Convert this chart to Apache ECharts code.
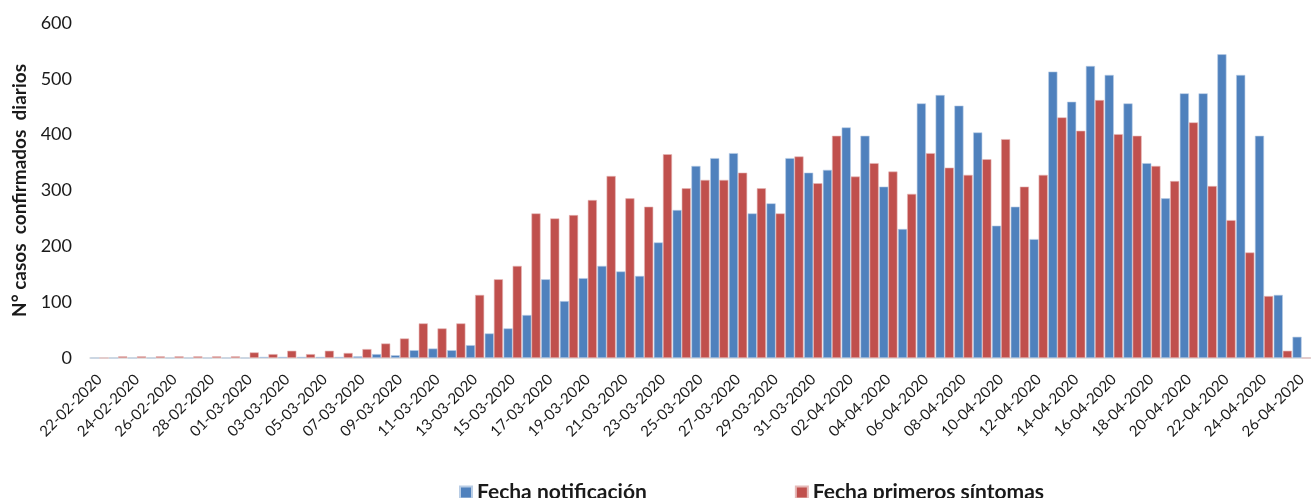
<!DOCTYPE html>
<html>
<head>
<meta charset="utf-8">
<script src="https://cdn.jsdelivr.net/npm/echarts@6/dist/echarts.min.js"></script>
<style>
  html, body { margin: 0; padding: 0; background: #fff; }
  #chart { width: 1311px; height: 498px; }
</style>
</head>
<body>
<div id="chart"></div>
<script>
// fechas 22-02-2020 .. 26-04-2020
var dates = [];
(function () {
  var d = new Date(2020, 1, 22);
  for (var i = 0; i < 65; i++) {
    var dd = ('0' + d.getDate()).slice(-2);
    var mm = ('0' + (d.getMonth() + 1)).slice(-2);
    dates.push(dd + '-' + mm + '-2020');
    d.setDate(d.getDate() + 1);
  }
})();

// casos por fecha de notificación
var notificacion = [
  0, 0, 0, 0, 0, 0, 0, 0, 0, 2,
  2, 2, 2, 2, 3, 7, 5, 14, 17, 14,
  23, 44, 53, 77, 141, 102, 143, 165, 155, 147,
  207, 265, 344, 358, 367, 259, 277, 358, 332, 337,
  413, 398, 307, 231, 456, 471, 452, 404, 237, 271,
  213, 513, 459, 523, 507, 456, 349, 286, 474, 474,
  544, 507, 398, 113, 38
];

// casos por fecha de primeros síntomas
var sintomas = [
  0, 3, 3, 3, 3, 3, 3, 3, 10, 7,
  13, 7, 13, 9, 16, 26, 35, 62, 53, 62,
  113, 141, 165, 259, 250, 256, 283, 326, 286, 271,
  365, 304, 319, 319, 332, 304, 259, 361, 313, 398,
  325, 349, 334, 294, 367, 341, 328, 356, 392, 307,
  328, 431, 407, 462, 401, 398, 344, 317, 422, 308,
  247, 189, 111, 13, 0
];

var myChart = echarts.init(document.getElementById('chart'));
var option = {
  animation: false,
  grid: {
    left: 90,
    right: -5,
    top: 23,
    bottom: 140
  },
  legend: {
    data: ['Fecha notificación', 'Fecha primeros síntomas'],
    left: 454,
    top: 477,
    icon: 'rect',
    itemWidth: 12,
    itemHeight: 12,
    itemGap: 148,
    textStyle: {
      fontFamily: 'Lato',
      fontWeight: 'bold',
      fontSize: 21,
      color: '#1a1a1a'
    }
  },
  xAxis: {
    type: 'category',
    data: dates,
    axisLine: { lineStyle: { color: '#d9d9d9', width: 1.5 } },
    axisTick: { show: false },
    axisLabel: {
      interval: 1,
      rotate: 45,
      margin: 19,
      fontFamily: 'Lato',
      fontSize: 15,
      color: '#1a1a1a'
    }
  },
  yAxis: {
    type: 'value',
    min: 0,
    max: 600,
    interval: 100,
    name: 'N° casos  confirmados  diarios',
    nameLocation: 'middle',
    nameGap: 58,
    nameTextStyle: {
      fontFamily: 'Lato',
      fontWeight: 'bold',
      fontSize: 19,
      color: '#1a1a1a'
    },
    splitLine: { show: false },
    axisLine: { show: false },
    axisTick: { show: false },
    axisLabel: {
      margin: 18,
      fontFamily: 'Lato',
      fontSize: 18,
      color: '#1a1a1a'
    }
  },
  series: [
    {
      name: 'Fecha notificación',
      type: 'bar',
      data: notificacion,
      barGap: '0%',
      barCategoryGap: '3%',
      itemStyle: { color: '#4f81bd', borderColor: '#b9cde5', borderWidth: 0.6 }
    },
    {
      name: 'Fecha primeros síntomas',
      type: 'bar',
      data: sintomas,
      itemStyle: { color: '#c0504d', borderColor: '#e6b9b8', borderWidth: 0.6 }
    }
  ]
};
myChart.setOption(option);
</script>
</body>
</html>
